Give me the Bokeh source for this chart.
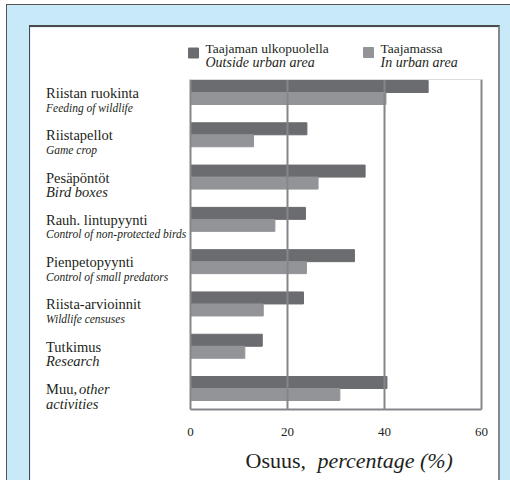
import numpy as np
from bokeh.plotting import figure
from bokeh.models import Range1d, ColumnDataSource
from bokeh.layouts import column
from bokeh.core.properties import value
from bokeh.embed import file_html
from bokeh.resources import INLINE

# ---- data ----
categories_fi = ["Riistan ruokinta", "Riistapellot", "Pesäpöntöt", "Rauh. lintupyynti",
                 "Pienpetopyynti", "Riista-arvioinnit", "Tutkimus", "Muu,"]
categories_en = ["Feeding of wildlife", "Game crop", "Bird boxes", "Control of non-protected birds",
                 "Control of small predators", "Wildlife censuses", "Research", "activities"]
outside_urban = [49.0, 24.0, 36.0, 23.7, 33.8, 23.3, 14.8, 40.5]
in_urban = [40.3, 13.0, 26.3, 17.4, 23.9, 15.0, 11.2, 30.8]
series_fi = ["Taajaman ulkopuolella", "Taajamassa"]
series_en = ["Outside urban area", "In urban area"]
x_ticks = [0, 20, 40, 60]
x_tick_labels = ["0", "20", "40", "60"]

FONT = "Liberation Serif"
TXT = "#231f20"
DARK = "#6b6c70"
LIGHT = "#939498"
LINE = "#86868a"

W, H = 468, 453
PX_X = 4.85      # px per percent
PX_Y = 42.29     # px per category
X0 = 160         # figure px of value 0
Y0 = 53          # figure px of first category top

p = figure(width=W, height=H, output_backend="svg", toolbar_location=None,
           x_range=Range1d(-X0 / PX_X, (W - X0) / PX_X),
           y_range=Range1d((H - Y0) / PX_Y, -Y0 / PX_Y),
           x_axis_location=None, y_axis_location=None, min_border_left=0, min_border_right=0,
           min_border_top=0, min_border_bottom=0)
p.xgrid.visible = False
p.ygrid.visible = False
p.outline_line_color = None
p.background_fill_color = "white"
p.border_fill_color = "white"

n = len(categories_fi)
idx = np.arange(n)
bh = 12 / PX_Y
src = ColumnDataSource(dict(y_out=idx + bh / 2, y_in=idx + 1.5 * bh,
                            out=outside_urban, urb=in_urban))
p.hbar(y="y_out", left=0, right="out", height=bh, color=DARK, source=src)
p.hbar(y="y_in", left=0, right="urb", height=bh, color=LIGHT, source=src)

# frame & grid lines (drawn on top of bars)
y_top = -1 / PX_Y
y_bot = 329 / PX_Y
p.segment(x0=x_ticks, x1=x_ticks, y0=[y_top] * 4, y1=[y_bot] * 4, line_color=LINE, line_width=2)
p.segment(x0=[0], x1=[60], y0=[y_bot], y1=[y_bot], line_color=LINE, line_width=2)
p.segment(x0=[0], x1=[60], y0=[y_top], y1=[y_top], line_color="#dcdcdc", line_width=1)

# tick labels
p.text(x=x_ticks, y=[351.7 / PX_Y] * 4, text=x_tick_labels, text_font=value(FONT),
       text_font_size="13px", text_color=TXT, text_align="center", text_baseline="middle")

# axis title
p.text(x=[55 / PX_X], y=[380 / PX_Y], text=["Osuus,"], text_font=value(FONT),
       text_font_size="22px", text_color=TXT, text_baseline="middle")
p.text(x=[127 / PX_X], y=[380 / PX_Y], text=["percentage (%)"], text_font=value(FONT),
       text_font_size="22px", text_font_style="italic", text_color=TXT, text_baseline="middle")

# category labels
lx = -144.5 / PX_X
sizes_en = ["11.5px", "11.5px", "14.5px", "11.5px", "11.5px", "11.5px", "14.5px", "14.5px"]
lab = ColumnDataSource(dict(x=[lx] * n, yfi=idx + 12.5 / PX_Y, yen=idx + 27 / PX_Y,
                            fi=categories_fi, en=categories_en, sz=sizes_en))
p.text(x="x", y="yfi", text="fi", source=lab, text_font=value(FONT), text_font_size="14.5px",
       text_color=TXT, text_baseline="middle")
p.text(x="x", y="yen", text="en", source=lab, text_font=value(FONT), text_font_size="sz",
       text_font_style="italic", text_color=TXT, text_baseline="middle")
p.text(x=[lx + 33 / PX_X], y=[7 + 12.5 / PX_Y], text=["other"], text_font=value(FONT),
       text_font_size="14.5px", text_font_style="italic", text_color=TXT, text_baseline="middle")

# legend
leg_x = [-2 / PX_X, 173 / PX_X]
p.rect(x=[lx0 + 5 / PX_X for lx0 in leg_x], y=[-27.5 / PX_Y, -28 / PX_Y], width=10, height=10,
       width_units="screen", height_units="screen", color=[DARK, LIGHT])
lgx = [leg_x[0] + 17 / PX_X, leg_x[1] + 17 / PX_X]
p.text(x=lgx, y=[-32.5 / PX_Y] * 2, text=series_fi, text_font=value(FONT),
       text_font_size="13.5px", text_color=TXT, text_baseline="middle")
p.text(x=lgx, y=[-18 / PX_Y] * 2, text=series_en, text_font=value(FONT),
       text_font_size="14px", text_font_style="italic", text_color=TXT, text_baseline="middle")

inner = column(p, styles={"border-left": "1px solid #4a4a4a", "border-top": "2px solid #4a4a4a",
                          "border-right": "2px solid #88888c"})
outer = column(inner, styles={"background-color": "#c8e9f8", "border-left": "1px solid #555",
                              "border-top": "1px solid #555", "padding-left": "22px",
                              "padding-top": "20px", "padding-right": "10px",
                              "margin-left": "6px", "margin-top": "4px"})

open("out.html", "w").write(file_html(outer, INLINE))
